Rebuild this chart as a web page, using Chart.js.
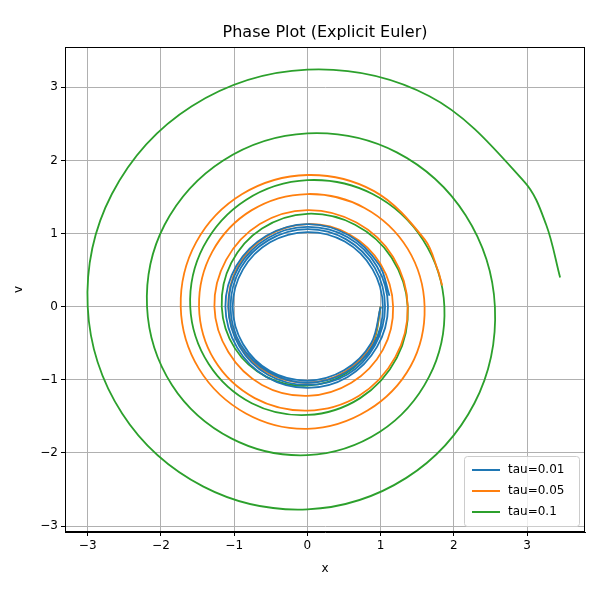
<!DOCTYPE html>
<html><head><script src="https://cdn.jsdelivr.net/npm/chart.js@4"></script>
<style>body{margin:0;background:#fff}#w{width:600px;height:600px}</style></head>
<body><div id="w"><canvas id="c" width="600" height="600"></canvas></div>
<script>
const seriesLabels=["tau=0.01","tau=0.05","tau=0.1"];
const xTicks=[-3,-2,-1,0,1,2,3];
const yTicks=[-3,-2,-1,0,1,2,3];
const tau001=[[1,0],[0.87,-0.5],[0.5,-0.87],[0,-1.01],[-0.51,-0.88],[-0.88,-0.51],[-1.02,0],[-0.88,0.51],[-0.51,0.88],[0,1.02],[0.51,0.89],[0.89,0.51],[1.03,0],[0.9,-0.52],[0.52,-0.9],[0,-1.04],[-0.52,-0.9],[-0.91,-0.52],[-1.05,0],[-0.91,0.53],[-0.53,0.91],[0,1.06],[0.53,0.92],[0.92,0.53],[1.06,0],[0.92,-0.53],[0.54,-0.93],[0,-1.07],[-0.54,-0.93],[-0.93,-0.54],[-1.08,0],[-0.94,0.54],[-0.54,0.94],[0,1.09],[0.55,0.95],[0.95,0.55],[1.1,0],[0.95,-0.55],[0.55,-0.96],[0,-1.11],[-0.56,-0.96],[-0.96,-0.56],[-1.12,0],[-0.97,0.56],[-0.56,0.97],[0,1.13],[0.56,0.98],[0.98,0.57],[1.12,0.15]];
const tau005=[[1,0],[0.88,-0.51],[0.51,-0.89],[0,-1.04],[-0.53,-0.91],[-0.92,-0.53],[-1.08,0],[-0.95,0.55],[-0.56,0.96],[0,1.13],[0.57,0.99],[1,0.58],[1.17,0],[1.03,-0.59],[0.6,-1.04],[0,-1.22],[-0.62,-1.07],[-1.08,-0.62],[-1.27,0],[-1.11,0.64],[-0.65,1.13],[0,1.32],[0.67,1.15],[1.17,0.68],[1.37,0],[1.2,-0.69],[0.7,-1.22],[0,-1.42],[-0.72,-1.25],[-1.27,-0.73],[-1.48,0],[-1.3,0.75],[-0.76,1.32],[0,1.54],[0.78,1.35],[1.37,0.79],[1.6,0],[1.41,-0.81],[0.82,-1.42],[0,-1.67],[-0.84,-1.46],[-1.48,-0.85],[-1.73,0],[-1.52,0.88],[-0.89,1.54],[0,1.8],[0.91,1.58],[1.6,0.92],[1.78,0.5],[1.84,0.29]];
const tau01=[[1,0],[0.89,-0.51],[0.53,-0.91],[0,-1.08],[-0.56,-0.96],[-0.99,-0.57],[-1.17,0],[-1.04,0.6],[-0.62,1.07],[0,1.27],[0.65,1.12],[1.15,0.67],[1.37,0],[1.22,-0.7],[0.72,-1.25],[0,-1.48],[-0.76,-1.32],[-1.35,-0.78],[-1.6,0],[-1.42,0.82],[-0.84,1.46],[0,1.73],[0.89,1.54],[1.58,0.91],[1.87,0],[1.66,-0.96],[0.99,-1.71],[0,-2.03],[-1.04,-1.8],[-1.85,-1.07],[-2.19,0],[-1.95,1.12],[-1.15,2],[0,2.37],[1.22,2.11],[2.16,1.25],[2.56,0],[2.28,-1.32],[1.35,-2.34],[0,-2.77],[-1.42,-2.46],[-2.53,-1.46],[-3,0],[-2.67,1.54],[-1.58,2.74],[0,3.24],[1.66,2.88],[2.96,1.71],[3.26,1.12],[3.45,0.4]];
const colors=["#1f77b4","#ff7f0e","#2ca02c"];
const all=[tau001,tau005,tau01];
const F="DejaVu Sans";
const legendPlugin={id:'lg',afterDraw(ch){const c=ch.ctx,a=ch.chartArea;
 c.save();c.strokeStyle='#000';c.lineWidth=1;c.strokeRect(a.left+0.5,a.top+0.5,a.right-a.left-1,a.bottom-a.top-1);
 const w=115,h=70,x=a.right-w-6,y=a.bottom-h-6;
 c.fillStyle='rgba(255,255,255,0.8)';c.strokeStyle='#ccc';
 c.beginPath();c.roundRect(x+0.5,y+0.5,w,h,3);c.fill();c.stroke();
 c.font='12px "'+F+'"';c.textBaseline='middle';
 seriesLabels.forEach((l,i)=>{const yy=y+14+i*21;c.strokeStyle=colors[i];c.lineWidth=2;
  c.beginPath();c.moveTo(x+8,yy);c.lineTo(x+36,yy);c.stroke();c.fillStyle='#000';c.fillText(l,x+44,yy);});
 c.fillStyle='#000';c.font='16px "'+F+'"';c.textAlign='center';c.textBaseline='middle';
 c.fillText('Phase Plot (Explicit Euler)',(a.left+a.right)/2,33);c.restore();}};
new Chart(document.getElementById('c'),{type:'scatter',
 data:{datasets:all.map((d,i)=>({label:seriesLabels[i],data:d.map(p=>({x:p[0],y:p[1]})),showLine:true,
  borderColor:colors[i],backgroundColor:colors[i],borderWidth:1.8,pointRadius:0,tension:0.35}))},
 options:{responsive:false,animation:false,layout:{padding:{left:12,right:15,top:47,bottom:24}},
  plugins:{legend:{display:false},tooltip:{enabled:false}},
  scales:{
   x:{type:'linear',min:-3.31,max:3.79,afterBuildTicks:s=>{s.ticks=xTicks.map(v=>({value:v}))},
    afterFit:s=>{s.height=44},
    grid:{color:'#b0b0b0',tickColor:'#000',tickLength:4},border:{color:'#000'},
    ticks:{color:'#000',font:{family:F,size:12},callback:v=>String(v).replace('-','\u2212')},
    title:{display:true,text:'x',color:'#000',font:{family:F,size:12},padding:0}},
   y:{type:'linear',min:-3.08,max:3.55,afterBuildTicks:s=>{s.ticks=yTicks.map(v=>({value:v}))},
    afterFit:s=>{s.width=53},
    grid:{color:'#b0b0b0',tickColor:'#000',tickLength:4},border:{color:'#000'},
    ticks:{color:'#000',font:{family:F,size:12},callback:v=>String(v).replace('-','\u2212')},
    title:{display:true,text:'v',color:'#000',font:{family:F,size:12},padding:0}}}},
 plugins:[legendPlugin]});
</script></body></html>
